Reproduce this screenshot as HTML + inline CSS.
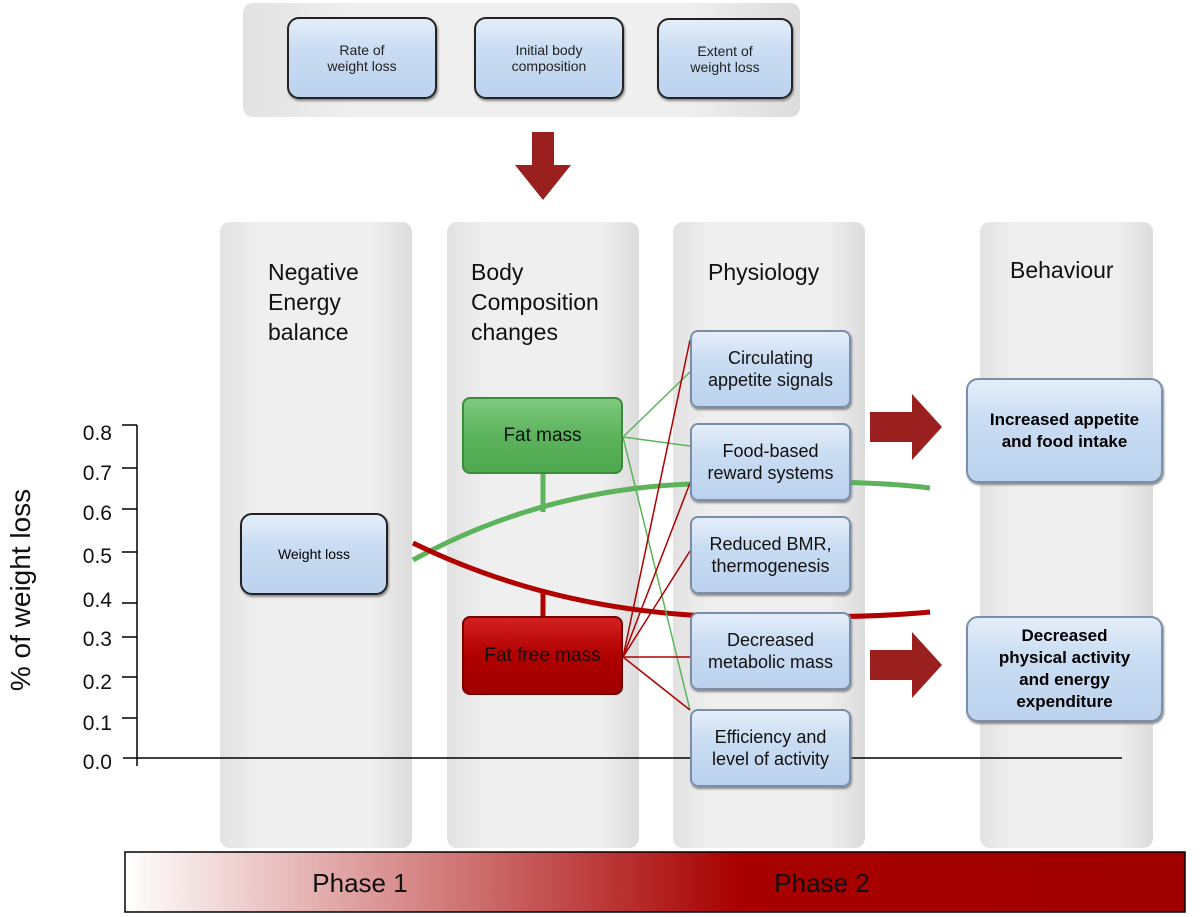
<!DOCTYPE html>
<html><head><style>
body{margin:0;width:1200px;height:917px;background:#fff;position:relative;font-family:"Liberation Sans",sans-serif;overflow:hidden}
.a{position:absolute}
.col{position:absolute;background:linear-gradient(90deg,#e2e2e2,#efefef 20%,#efefef 80%,#dcdcdc);border-radius:10px}
.bx{position:absolute;display:flex;align-items:center;justify-content:center;text-align:center;box-sizing:border-box;border-radius:8px}
.blue{background:linear-gradient(#e4eefa,#c9dcf2 40%,#bcd2ee);border:2px solid #7b8ea8;box-shadow:1px 2px 2px #888}
.tb{border:2px solid #222;border-radius:12px;font-size:14px;color:#222}
.ph{font-size:18px;color:#111;line-height:22px}
.t{position:absolute;font-size:23px;color:#111;line-height:30px}
</style></head><body>
<div class="col" style="left:243px;top:3px;width:557px;height:114px"></div>
<div class="bx blue tb" style="left:287px;top:17px;width:150px;height:82px">Rate of<br>weight loss</div>
<div class="bx blue tb" style="left:474px;top:17px;width:150px;height:82px">Initial body<br>composition</div>
<div class="bx blue tb" style="left:657px;top:18px;width:136px;height:81px">Extent of<br>weight loss</div>

<div class="col" style="left:220px;top:222px;width:192px;height:626px"></div>
<div class="col" style="left:447px;top:222px;width:192px;height:626px"></div>
<div class="col" style="left:673px;top:222px;width:192px;height:626px"></div>
<div class="col" style="left:980px;top:222px;width:173px;height:626px"></div>
<div class="t" style="left:268px;top:257px">Negative<br>Energy<br>balance</div>
<div class="t" style="left:471px;top:257px">Body<br>Composition<br>changes</div>
<div class="t" style="left:708px;top:257px">Physiology</div>
<div class="t" style="left:1010px;top:255px">Behaviour</div>

<svg class="a" style="left:0;top:0" width="1200" height="917">
<polygon points="532,132 554,132 554,165 571,165 543,200 515,165 532,165" fill="#9a2020"/>
<polygon points="870,412 912,412 912,394 942,427 912,460 912,442 870,442" fill="#9a2020"/>
<polygon points="870,650 912,650 912,632 942,665 912,698 912,680 870,680" fill="#9a2020"/>
<g stroke="#000" stroke-width="1.5">
<line x1="137" y1="425" x2="137" y2="766"/>
<line x1="123" y1="758" x2="1122" y2="758"/>
<line x1="122" y1="425" x2="137" y2="425"/><line x1="122" y1="468" x2="137" y2="468"/><line x1="122" y1="509" x2="137" y2="509"/><line x1="122" y1="552" x2="137" y2="552"/><line x1="122" y1="603" x2="137" y2="603"/><line x1="122" y1="637" x2="137" y2="637"/><line x1="122" y1="677" x2="137" y2="677"/><line x1="122" y1="718" x2="137" y2="718"/>
</g>
<g font-family="Liberation Sans" font-size="21" fill="#111" text-anchor="end">
<text x="112" y="440">0.8</text><text x="112" y="480">0.7</text><text x="112" y="520">0.6</text><text x="112" y="563">0.5</text><text x="112" y="607">0.4</text><text x="112" y="646">0.3</text><text x="112" y="689">0.2</text><text x="112" y="730">0.1</text><text x="112" y="769">0.0</text>
</g>
<line x1="543" y1="474" x2="543" y2="512" stroke="#5cb35c" stroke-width="5"/>
<line x1="543" y1="590" x2="543" y2="616" stroke="#b00000" stroke-width="5"/>
<path d="M413,560 Q540,490 690,484 Q850,478 930,488" fill="none" stroke="#5cb35c" stroke-width="5"/>
<path d="M413,543 Q540,605 690,615 Q850,620 930,612" fill="none" stroke="#b00000" stroke-width="5"/>
<g stroke="#5cb35c" stroke-width="1.5">
<line x1="623" y1="437" x2="690" y2="372"/><line x1="623" y1="437" x2="690" y2="446"/><line x1="623" y1="437" x2="690" y2="710"/></g>
<g stroke="#b00000" stroke-width="1.5">
<line x1="623" y1="657" x2="690" y2="340"/><line x1="623" y1="657" x2="690" y2="483"/><line x1="623" y1="657" x2="690" y2="551"/><line x1="623" y1="657" x2="690" y2="657"/><line x1="623" y1="657" x2="690" y2="710"/></g>
<defs><linearGradient id="g" x1="0" x2="1"><stop offset="0" stop-color="#fff"/><stop offset="0.58" stop-color="#a80000"/><stop offset="1" stop-color="#a00000"/></linearGradient></defs>
<rect x="125" y="852" width="1060" height="60" fill="url(#g)" stroke="#000" stroke-width="1.5"/>
<text x="360" y="892" font-size="26" text-anchor="middle" font-family="Liberation Sans" fill="#111">Phase 1</text>
<text x="822" y="892" font-size="26" text-anchor="middle" font-family="Liberation Sans" fill="#111">Phase 2</text>
<text transform="translate(30,590) rotate(-90)" font-size="28" text-anchor="middle" font-family="Liberation Sans" fill="#111">% of weight loss</text>
</svg>

<div class="bx blue" style="left:240px;top:513px;width:148px;height:82px;border:2px solid #222;border-radius:12px;font-size:14px">Weight loss</div>
<div class="bx" style="left:462px;top:397px;width:161px;height:77px;background:linear-gradient(#7fc97f,#5cb35c 50%,#4ea84e);border:2px solid #3d8a3d;font-size:19px;color:#111">Fat mass</div>
<div class="bx" style="left:462px;top:616px;width:161px;height:79px;background:linear-gradient(#d42020,#b00000 50%,#a00000);border:2px solid #7a0000;font-size:19px;color:#111">Fat free mass</div>

<div class="bx blue ph" style="left:690px;top:330px;width:161px;height:78px">Circulating<br>appetite signals</div>
<div class="bx blue ph" style="left:690px;top:423px;width:161px;height:78px">Food-based<br>reward systems</div>
<div class="bx blue ph" style="left:690px;top:516px;width:161px;height:78px">Reduced BMR,<br>thermogenesis</div>
<div class="bx blue ph" style="left:690px;top:612px;width:161px;height:78px">Decreased<br>metabolic mass</div>
<div class="bx blue ph" style="left:690px;top:709px;width:161px;height:78px">Efficiency and<br>level of activity</div>

<div class="bx blue" style="left:966px;top:378px;width:197px;height:105px;border-radius:12px;font-weight:bold;font-size:17px;line-height:22px">Increased appetite<br>and food intake</div>
<div class="bx blue" style="left:966px;top:616px;width:197px;height:106px;border-radius:12px;font-weight:bold;font-size:17px;line-height:22px">Decreased<br>physical activity<br>and energy<br>expenditure</div>
</body></html>
